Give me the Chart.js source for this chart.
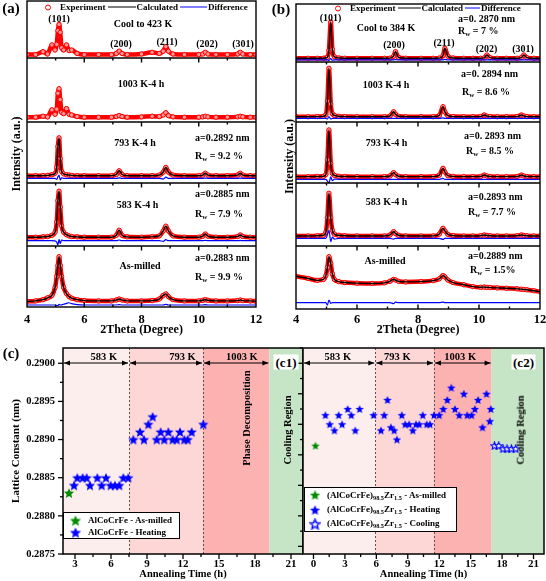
<!DOCTYPE html>
<html>
<head>
<meta charset="utf-8">
<title>XRD refinement and lattice constant</title>
<script src="https://cdn.jsdelivr.net/npm/chart.js@4.4.1/dist/chart.umd.min.js"></script>
<style>
  html, body { margin: 0; padding: 0; background: #fff; }
  #figure { position: relative; width: 546px; height: 581px; overflow: hidden;
            font-family: 'Times New Roman', 'Liberation Serif', serif; font-weight: bold; color: #000; }
  #figure > canvas { position: absolute; }
  .txt { position: absolute; white-space: nowrap; line-height: 1; }
  .txt sub, .box-legend sub { font-size: 0.7em; vertical-align: -0.25em; line-height: 0; }
  .legend { position: absolute; display: flex; align-items: center; font-size: 9px; white-space: nowrap; line-height: 1; transform: translateY(-50%); }
  .legend-line { display: inline-block; height: 1.6px; }
  .legend-circle { display: inline-block; width: 4px; height: 4px; border: 1px solid #ff0000; border-radius: 50%; }
  .box-legend { position: absolute; background: #fff; border: 1.5px solid #000; box-sizing: border-box; font-size: 9px; line-height: 1; }
  .box-legend .row { position: absolute; display: flex; align-items: center; white-space: nowrap; }
  .tag { position: absolute; background: #fff; font-size: 13px; padding: 1px 2px; line-height: 1; transform: translate(-50%, -50%); }
</style>
</head>
<body>
<div id="figure">
  <canvas id="chartA" width="273" height="340" style="left:0;top:0;width:273px;height:340px"></canvas>
  <canvas id="chartB" width="273" height="340" style="left:273px;top:0;width:273px;height:340px"></canvas>
  <canvas id="chartC1" width="303" height="251" style="left:0;top:330px;width:303px;height:251px"></canvas>
  <canvas id="chartC2" width="256" height="251" style="left:290px;top:330px;width:256px;height:251px"></canvas>
</div>
<script>
// ---------- (a) AlCoCrFe: 2theta grid and intensities (0-100 inside each sub-panel) ----------
const tthA = [4.00, 4.30, 4.56, 4.72, 4.87, 4.98, 5.04, 5.08, 5.12, 5.16,
              5.21, 5.28, 5.38, 5.47, 5.56, 5.75, 6.00, 6.50, 6.95, 7.12,
              7.22, 7.32, 7.50, 8.00, 8.37, 8.62, 8.76, 8.85, 8.94, 9.10,
              9.50, 10.00, 10.14, 10.23, 10.32, 10.60, 11.00, 11.36, 11.45, 11.54,
              11.80, 12.00];
const aCool423 = [6, 6, 11, 7, 23, 14, 24, 48, 59, 45,
                  18, 14, 23, 13, 14, 8, 6, 6, 6, 8,
                  12, 8, 6, 7, 10, 8, 12, 20, 12, 7,
                  6, 6, 7, 10, 7, 6, 6, 7, 10, 7,
                  6, 6];
const a1003K = [7.5, 7.5, 9, 8, 19, 12, 20, 45, 52, 35,
                15, 13, 21, 12, 11, 8.5, 7.5, 7.5, 7.5, 8.5,
                10, 8.5, 7.5, 8, 9, 8.5, 11, 14.5, 10, 8,
                7.5, 7.5, 8, 9, 8, 7.5, 7.5, 8, 9, 8,
                7.5, 7.5];
const a793K = [12, 12, 12, 12.5, 13.5, 16, 26, 60, 74, 40,
               19, 15, 13.5, 13, 12.5, 12, 12, 12, 12, 14,
               20, 14, 12, 12, 12, 13, 18, 25.5, 18, 13,
               12, 12, 13, 16, 13, 12, 12, 13, 16, 13,
               12, 12];
const a583K = [14, 14, 14.5, 15, 17, 22, 38, 72, 87, 62,
               32, 22, 18, 16, 15, 14.5, 14, 14, 14, 17,
               25, 17, 14.5, 14, 14.5, 16, 24, 31.5, 24, 16,
               14, 14, 15.5, 19, 15.5, 14, 14, 15, 17.5, 15,
               14, 14];
const aMilled = [9, 10, 12, 15, 19, 32, 50, 68, 82.5, 68,
                 50, 32, 22, 17, 14.5, 12, 10.5, 10, 10, 11.5,
                 13, 11.5, 10, 10, 10.5, 13, 19, 21.5, 17, 12,
                 10, 10, 11, 12, 11, 10, 10, 10.5, 11.5, 10.5,
                 10, 9.5];
const aDiff793K = [7.7, 7.7, 7.7, 7.7, 7.7, 7.7, 6, 10, 13, 5,
                   8.5, 7.7, 7.7, 7.7, 7.7, 7.7, 7.7, 7.7, 7.7, 7.7,
                   8.5, 7.7, 7.7, 7.7, 7.7, 7.7, 6.5, 9.5, 7.7, 7.7,
                   7.7, 7.7, 7.7, 8, 7.7, 7.7, 7.7, 7.7, 8, 7.7,
                   7.7, 7.7];
const aDiff583K = [8.4, 8.4, 8.4, 8.4, 8.4, 8.2, 6, 1.6, 10.6, 4,
                   9.5, 8.4, 8.4, 8.4, 8.4, 8.4, 8.4, 8.4, 8.4, 8.4,
                   9.5, 8.4, 8.4, 8.4, 8.4, 8.4, 7.5, 10, 8.4, 8.4,
                   8.4, 8.4, 8.4, 9, 8.4, 8.4, 8.4, 8.4, 8.8, 8.4,
                   8.4, 8.4];
const aDiffMilled = [3.3, 3.3, 3.3, 3.3, 3.3, 3.3, 2.5, 2.5, 4.5, 3.3,
                     3.6, 4.5, 6, 7, 5.5, 4, 3.3, 3.3, 3.3, 3.3,
                     4, 3.3, 3.3, 3.3, 3.3, 3.3, 3.3, 4.5, 3.3, 3.3,
                     3.3, 3.3, 3.3, 3.8, 3.3, 3.3, 3.3, 3.3, 3.3, 3.3,
                     3.3, 3.3];

// ---------- (b) (AlCoCrFe)98.5Zr1.5 ----------
const tthB = [4.00, 4.40, 4.70, 4.90, 4.98, 5.03, 5.08, 5.14, 5.19, 5.26,
              5.40, 5.60, 6.00, 6.50, 6.90, 7.08, 7.20, 7.26, 7.36, 7.60,
              8.10, 8.50, 8.70, 8.82, 8.88, 8.98, 9.15, 9.50, 9.80, 10.05,
              10.17, 10.26, 10.36, 10.60, 10.90, 11.25, 11.39, 11.47, 11.57, 11.80,
              12.00];
const bCool384 = [6.4, 6.4, 6.4, 6.5, 7, 8, 20, 69, 22, 9,
                  7, 6.5, 6.4, 6.4, 6.4, 6.6, 10, 17.8, 8, 6.5,
                  6.4, 6.4, 6.7, 11, 23.6, 10, 6.8, 6.4, 6.4, 6.4,
                  7, 12, 7.5, 6.4, 6.4, 6.4, 7.5, 12, 7.5, 6.4,
                  6.4];
const b1003K = [8.8, 8.8, 9, 9.5, 12, 35, 89.5, 30, 14, 11,
                9.5, 9, 8.8, 8.8, 8.8, 10, 17, 13, 9.5, 8.8,
                8.8, 8.8, 11, 25.5, 17, 10.5, 9, 8.8, 8.8, 9,
                11.7, 9.8, 9, 8.8, 8.8, 9, 11.7, 10, 9, 8.8,
                8.8];
const b793K = [10.4, 10.4, 10.6, 11, 14, 38, 87, 32, 16, 12.5,
               11, 10.6, 10.4, 10.4, 10.4, 11.5, 17, 14, 11, 10.4,
               10.4, 10.5, 13, 24, 18, 12, 10.8, 10.4, 10.4, 10.6,
               13, 11.5, 10.6, 10.4, 10.4, 10.6, 13, 11.5, 10.6, 10.4,
               10.4];
const b583K = [15.9, 15.9, 16.2, 17, 22, 45, 83.7, 45, 25, 19,
               17, 16.3, 15.9, 15.9, 15.9, 17.5, 22.7, 20, 17, 16,
               15.9, 16, 19, 28, 24, 18.5, 16.5, 15.9, 15.9, 16.2,
               17.5, 16.8, 16.2, 15.9, 15.9, 16.2, 17.5, 16.8, 16.2, 15.9,
               15.9];
const bMilled = [52, 48.5, 45.5, 47, 53, 66, 83, 72, 56, 47,
                 43.5, 42, 41, 40.5, 41.5, 44, 47, 46, 44, 43,
                 43.5, 45, 48, 53, 51, 46, 42, 38.5, 35.5, 34.5,
                 34.8, 34.4, 34, 33.5, 33, 32, 31.5, 31, 30.5, 29,
                 27.5];
const bDiffCool384 = [3.5, 3.5, 3.5, 3.5, 3.5, 3.5, 2.5, 6, 3, 3.5,
                      3.5, 3.5, 3.5, 3.5, 3.5, 3.5, 3.5, 4.2, 3.5, 3.5,
                      3.5, 3.5, 3.5, 3.5, 4.5, 3.5, 3.5, 3.5, 3.5, 3.5,
                      3.5, 3.5, 3.5, 3.5, 3.5, 3.5, 3.5, 3.5, 3.5, 3.5,
                      3.5];
const bDiff1003K = [6, 6, 6, 6, 6, 5, 9, 5, 6, 6,
                    6, 6, 6, 6, 6, 6, 6, 6, 6, 6,
                    6, 6, 6, 7, 6, 6, 6, 6, 6, 6,
                    6, 6, 6, 6, 6, 6, 6, 6, 6, 6,
                    6];
const bDiff793K = [6, 6, 6, 6, 6, 3, 0.5, 10, 4, 6.5,
                   6, 6, 6, 6, 6, 6, 6, 6, 6, 6,
                   6, 6, 6, 7.5, 6, 6, 6, 6, 6, 6,
                   6, 6, 6, 6, 6, 6, 6, 6, 6, 6,
                   6];
const bDiff583K = [12, 12, 12, 12, 12, 18, 25, 7, 14, 11,
                   12, 12, 12, 12, 12, 12, 11, 12, 12, 12,
                   12, 12, 12, 10.5, 12, 12, 12, 12, 12, 12,
                   12, 12, 12, 12, 12, 12, 12, 12, 12, 12,
                   12];
const bDiffMilled = [10, 10, 10, 10, 10, 6.3, 14, 9, 10, 10,
                     10, 10, 10, 10, 10, 10, 8.5, 11, 10, 10,
                     10, 10, 10, 11, 10, 10, 10, 10, 10, 10,
                     10, 10, 10, 10, 10, 10, 10, 10, 10, 10,
                     10];

// ---------- (c1) AlCoCrFe lattice constant ----------
const c1MilledTime = [2.5];
const c1MilledA = [0.2883];
const c1HeatTime = [2.92, 3.19, 3.64, 3.97, 4.25, 4.86, 5.22, 5.58, 5.97, 6.33, 6.69, 7.03, 7.44,
                    7.86, 8.42, 8.75, 9.11, 9.47, 9.81, 10.14, 10.44, 10.78, 11.14, 11.47, 11.75,
                    12.11, 12.39, 12.72, 13.69];
const c1HeatA = [0.2884, 0.2885, 0.2885, 0.2885, 0.2884, 0.2885, 0.2884, 0.2885, 0.2884, 0.2884, 0.2884, 0.2885, 0.2885,
                 0.2890, 0.2891, 0.2890, 0.2892, 0.2893, 0.2890, 0.2891, 0.2890, 0.2891, 0.2890, 0.2890, 0.2891,
                 0.2890, 0.2890, 0.2891, 0.2892];
const c1StageEdges = [2, 7.5, 13.67, 19.2, 22];

// ---------- (c2) (AlCoCrFe)98.5Zr1.5 lattice constant ----------
const c2MilledTime = [0.19];
const c2MilledA = [0.28893];
const c2HeatTime = [1.14, 1.55, 2.0, 2.4, 2.73, 3.26, 3.61, 3.99, 4.4,
                    5.73, 6.44, 6.75, 7.06, 7.39, 7.70, 7.96, 8.43, 8.75, 9.13, 9.48, 9.79, 10.1, 10.43, 10.81, 11.12, 11.5,
                    12.0, 12.39, 12.77, 13.15, 13.5, 13.91, 14.35, 14.67, 15.09, 15.4, 15.71, 16.13, 16.51, 16.83, 16.92];
const c2HeatA = [0.28903, 0.28900, 0.28898, 0.28903, 0.28900, 0.28905, 0.28903, 0.28898, 0.28905,
                 0.28903, 0.28898, 0.28903, 0.28908, 0.28899, 0.28898, 0.28895, 0.28903, 0.28900, 0.28900, 0.28898,
                 0.28900, 0.28900, 0.28903, 0.28900, 0.28900, 0.28903,
                 0.28903, 0.28905, 0.28908, 0.28912, 0.28905, 0.28903, 0.28910, 0.28903, 0.28903, 0.28905,
                 0.28908, 0.28899, 0.28910, 0.28901, 0.28905];
const c2CoolTime = [17.27, 17.68, 18.09, 18.47, 18.89, 19.3];
const c2CoolA = [0.28893, 0.28893, 0.28892, 0.28892, 0.28892, 0.28892];
const c2StageEdges = [-1, 5.9, 11.5, 17, 22];

const stageNames = ['583 K', '793 K', '1003 K'];

// ---------------------------------------------------------------
const serif = "'Times New Roman', 'Liberation Serif', serif";
Chart.defaults.font.family = serif;
Chart.defaults.font.weight = 'bold';
Chart.defaults.color = '#000';

const fig = document.getElementById('figure');

function put(html, x, y, size, mode) {
    const el = document.createElement('div');
    el.className = 'txt';
    el.innerHTML = html;
    el.style.left = x + 'px';
    el.style.top = y + 'px';
    el.style.fontSize = size + 'px';
    if (mode === 'left') el.style.transform = 'translate(0, -50%)';
    else if (mode === 'rot') el.style.transform = 'translate(-50%, -50%) rotate(-90deg)';
    else el.style.transform = 'translate(-50%, -50%)';
    fig.appendChild(el);
    return el;
}

// star marker drawn once on a small canvas, used as the pointStyle
function makeStar(size, fill, stroke) {
    const c = document.createElement('canvas');
    c.width = c.height = size;
    const g = c.getContext('2d');
    const r = size / 2 - 0.6, ri = r * 0.45, cx = size / 2, cy = size / 2 + r * 0.1;
    g.beginPath();
    for (let i = 0; i < 10; i++) {
        const rad = i % 2 ? ri : r;
        const ang = -Math.PI / 2 + i * Math.PI / 5;
        g.lineTo(cx + rad * Math.cos(ang), cy + rad * Math.sin(ang));
    }
    g.closePath();
    g.fillStyle = fill;
    g.fill();
    if (stroke) {
        g.strokeStyle = stroke;
        g.lineWidth = 1.1;
        g.stroke();
    }
    return c;
}

// ---------- XRD panels ----------
const xrdFrame = {
    id: 'xrdFrame',
    afterDatasetsDraw(chart, args, opts) {
        const {ctx, chartArea: {left, right, top, bottom}, scales: {x, y}} = chart;
        ctx.save();
        ctx.strokeStyle = '#000';
        ctx.lineWidth = 1.4;
        opts.bounds.slice(1, -1).forEach(b => {
            const py = y.getPixelForValue(b);
            ctx.beginPath();
            ctx.moveTo(left, py);
            ctx.lineTo(right, py);
            ctx.stroke();
            for (let v = 5; v <= 11; v++) {
                const px = x.getPixelForValue(v);
                ctx.beginPath();
                ctx.moveTo(px, py);
                ctx.lineTo(px, py + (v % 2 ? 2.5 : 4.5));
                ctx.stroke();
            }
        });
        for (let v = 5; v <= 11; v++) {
            const px = x.getPixelForValue(v);
            ctx.beginPath();
            ctx.moveTo(px, bottom);
            ctx.lineTo(px, bottom - (v % 2 ? 2.5 : 4.5));
            ctx.stroke();
        }
        ctx.strokeRect(left, top, right - left, bottom - top);
        ctx.restore();
    }
};

function toPoints(tth, vals, lo, hi) {
    return tth.map((t, i) => ({x: t, y: lo + vals[i] * (hi - lo) / 100}));
}

// rows go from the bottom sub-panel to the top one
function xrdDatasets(tth, bounds, rows) {
    const sets = [];
    rows.forEach((row, k) => {
        const lo = bounds[k], hi = bounds[k + 1];
        sets.push({
            label: 'Experiment', data: toPoints(tth, row.obs, lo, hi), showLine: true,
            borderColor: '#ff0000', borderWidth: 4.5, cubicInterpolationMode: 'monotone',
            pointRadius: 2.2, pointBorderWidth: 1, pointBorderColor: '#ff0000', pointBackgroundColor: '#ff9a9a',
            order: 3
        });
        if (row.fit) {
            sets.push({
                label: 'Calculated', data: toPoints(tth, row.fit, lo, hi), showLine: true,
                borderColor: '#000000', borderWidth: 1.4, cubicInterpolationMode: 'monotone', pointRadius: 0, order: 2
            });
        }
        if (row.diff) {
            sets.push({
                label: 'Difference', data: toPoints(tth, row.diff, lo, hi), showLine: true,
                borderColor: '#0000ff', borderWidth: 1.2, cubicInterpolationMode: 'monotone', pointRadius: 0, order: 1
            });
        }
    });
    return sets;
}

function makeXrdChart(id, tth, bounds, rows, box) {
    return new Chart(document.getElementById(id), {
        type: 'scatter',
        data: {datasets: xrdDatasets(tth, bounds, rows)},
        options: {
            responsive: false, animation: false, events: [], devicePixelRatio: 1,
            layout: {autoPadding: false, padding: {top: box.top, right: box.right, left: 0, bottom: 0}},
            plugins: {legend: {display: false}, tooltip: {enabled: false}, xrdFrame: {bounds}},
            scales: {
                x: {
                    type: 'linear', min: 4, max: 12,
                    grid: {display: false, drawTicks: false}, border: {display: false},
                    ticks: {stepSize: 2, maxRotation: 0, padding: box.tickPad, font: {size: 12.5, weight: 'bold'}},
                    title: {display: true, text: '2Theta (Degree)', font: {size: 12, weight: 'bold'}, padding: {top: 0, bottom: box.titlePad}},
                    afterFit: s => { s.height = box.xh; s.paddingLeft = 0; s.paddingRight = 0; }
                },
                y: {
                    type: 'linear', min: 0, max: bounds[bounds.length - 1],
                    grid: {display: false, drawTicks: false}, border: {display: false},
                    ticks: {display: false},
                    title: {display: true, text: 'Intensity (a.u.)', font: {size: 12, weight: 'bold'}, padding: {top: 10, bottom: 0}},
                    afterFit: s => { s.width = box.yw; }
                }
            }
        },
        plugins: [xrdFrame]
    });
}

// legend line in the top sub-panel, built from the chart datasets
const generateLegend = (chart, left, top, lineWidths) => {
    const legend = document.createElement('div');
    legend.className = 'legend';
    legend.style.left = left + 'px';
    legend.style.top = top + 'px';
    const seen = new Set();
    let lineIdx = 0;
    chart.data.datasets.forEach(ds => {
        if (seen.has(ds.label)) return;
        seen.add(ds.label);
        const mark = document.createElement('span');
        const label = document.createElement('span');
        label.textContent = ds.label;
        if (ds.label === 'Experiment') {
            mark.className = 'legend-circle';
            mark.style.margin = '0 9px 0 3px';
        } else {
            mark.className = 'legend-line';
            mark.style.width = lineWidths[lineIdx++] + 'px';
            mark.style.background = ds.borderColor;
            mark.style.margin = '0 1px 0 2px';
        }
        legend.append(mark, label);
    });
    fig.appendChild(legend);
};

const chartA = makeXrdChart('chartA', tthA, [0, 61, 124, 185, 249, 306], [
    {obs: aMilled, fit: aMilled, diff: aDiffMilled},
    {obs: a583K, fit: a583K, diff: aDiff583K},
    {obs: a793K, fit: a793K, diff: aDiff793K},
    {obs: a1003K},
    {obs: aCool423}
], {top: 1, right: 17, yw: 27, xh: 33, tickPad: 5, titlePad: 3});

const chartB = makeXrdChart('chartB', tthB, [0, 63, 126, 187, 247, 305], [
    {obs: bMilled, fit: bMilled, diff: bDiffMilled},
    {obs: b583K, fit: b583K, diff: bDiff583K},
    {obs: b793K, fit: b793K, diff: bDiff793K},
    {obs: b1003K, fit: b1003K, diff: bDiff1003K},
    {obs: bCool384, fit: bCool384, diff: bDiffCool384}
], {top: 4, right: 6, yw: 23, xh: 31, tickPad: 3, titlePad: 2.5});

generateLegend(chartA, 42, 7, [28, 27]);
generateLegend(chartB, 332, 8, [23, 15]);

// ---------- lattice constant panels ----------
function tickSteps(min, max, step) {
    const out = [];
    for (let k = Math.ceil(min / step - 1e-6); k * step <= max + step * 1e-6; k++) out.push(k);
    return out;
}

const annealFrame = {
    id: 'annealFrame',
    beforeDatasetsDraw(chart, args, opts) {
        const {ctx, chartArea: {top, bottom}, scales: {x}} = chart;
        const px = v => x.getPixelForValue(v);
        ctx.save();
        opts.edges.slice(0, -1).forEach((e, i) => {
            ctx.fillStyle = opts.colors[i];
            ctx.fillRect(px(e), top, px(opts.edges[i + 1]) - px(e), bottom - top);
        });
        ctx.strokeStyle = '#555';
        ctx.lineWidth = 1;
        ctx.setLineDash([2, 2]);
        opts.edges.slice(1, 3).forEach(v => {
            const xx = Math.round(px(v)) + 0.5;
            ctx.beginPath();
            ctx.moveTo(xx, top);
            ctx.lineTo(xx, bottom);
            ctx.stroke();
        });
        ctx.setLineDash([]);
        // heating stage arrows
        const ay = top + 15;
        ctx.strokeStyle = '#000';
        ctx.fillStyle = '#000';
        ctx.font = `bold 10.5px ${serif}`;
        ctx.textAlign = 'center';
        stageNames.forEach((name, i) => {
            const x0 = px(opts.edges[i]) + 1, x1 = px(opts.edges[i + 1]) - 1;
            ctx.beginPath();
            ctx.moveTo(x0, ay);
            ctx.lineTo(x1, ay);
            ctx.stroke();
            [[x0, 1], [x1, -1]].forEach(([ax, d]) => {
                ctx.beginPath();
                ctx.moveTo(ax, ay);
                ctx.lineTo(ax + 6 * d, ay - 2.5);
                ctx.lineTo(ax + 6 * d, ay + 2.5);
                ctx.closePath();
                ctx.fill();
            });
            ctx.fillText(name, px(opts.labelAt[i]), ay - 3);
        });
        ctx.restore();
    },
    afterDatasetsDraw(chart, args, opts) {
        const {ctx, chartArea: {left, right, top, bottom}, scales: {x, y}} = chart;
        ctx.save();
        ctx.strokeStyle = '#000';
        ctx.lineWidth = 1.3;
        tickSteps(x.min, x.max, opts.xStep / 2).forEach(k => {
            const p = x.getPixelForValue(k * opts.xStep / 2);
            ctx.beginPath();
            ctx.moveTo(p, bottom);
            ctx.lineTo(p, bottom + (k % 2 ? 3 : 5));
            ctx.stroke();
        });
        tickSteps(y.min, y.max, opts.yStep / 2).forEach(k => {
            const p = y.getPixelForValue(k * opts.yStep / 2);
            ctx.beginPath();
            ctx.moveTo(left, p);
            ctx.lineTo(left - (k % 2 ? 3 : 5), p);
            ctx.stroke();
        });
        ctx.lineWidth = 1.5;
        ctx.strokeRect(left, top, right - left, bottom - top);
        ctx.restore();
    }
};

const zip = (xs, ys) => xs.map((v, i) => ({x: v, y: ys[i]}));
const stageColors = ['#fdeeee', '#fdd6d6', '#fdb2b2', '#c6e4c6'];

function makeAnnealChart(id, datasets, xMin, yRange, yStep, frame, pad, showY) {
    return new Chart(document.getElementById(id), {
        type: 'scatter',
        data: {datasets},
        options: {
            responsive: false, animation: false, events: [], devicePixelRatio: 1,
            layout: {autoPadding: false, padding: pad},
            plugins: {legend: {display: false}, tooltip: {enabled: false}, annealFrame: Object.assign({colors: stageColors, xStep: 3, yStep}, frame)},
            scales: {
                x: {
                    type: 'linear', min: xMin, max: 22,
                    grid: {display: false, drawTicks: false}, border: {display: false},
                    ticks: {stepSize: 3, includeBounds: false, maxRotation: 0, padding: 4, font: {size: 11, weight: 'bold'}},
                    title: {display: true, text: 'Annealing Time (h)', font: {size: 10.5, weight: 'bold'}, padding: {top: 0, bottom: 0}},
                    afterFit: s => { s.height = 27; s.paddingLeft = 0; s.paddingRight = 0; }
                },
                y: {
                    type: 'linear', min: yRange[0], max: yRange[1], display: showY,
                    grid: {display: false, drawTicks: false}, border: {display: false},
                    ticks: {stepSize: yStep, includeBounds: false, padding: 8, font: {size: 10.5, weight: 'bold'},
                            callback: v => v.toFixed(4)},
                    title: {display: true, text: 'Lattice Constant (nm)', font: {size: 11, weight: 'bold'}, padding: {top: 10, bottom: 0}},
                    afterFit: s => {
                        if (showY) s.width = 63;
                        s.paddingTop = 0;
                        s.paddingBottom = 0;
                    }
                }
            }
        },
        plugins: [annealFrame]
    });
}

const zr = '(AlCoCrFe)<sub>98.5</sub>Zr<sub>1.5</sub>';

const chartC1 = makeAnnealChart('chartC1', [
    {label: 'AlCoCrFe - As-milled', data: zip(c1MilledTime, c1MilledA), pointStyle: makeStar(12, '#008c00'), pointRadius: 6},
    {label: 'AlCoCrFe - Heating', data: zip(c1HeatTime, c1HeatA), pointStyle: makeStar(12, '#0000ff'), pointRadius: 6}
], 2, [0.2875, 0.2902], 0.0005,
   {edges: c1StageEdges, labelAt: [5.4, 11.96, 16.9]},
   {top: 18, left: 0, right: 0, bottom: 0}, true);

const chartC2 = makeAnnealChart('chartC2', [
    {label: zr + ' - As-milled', data: zip(c2MilledTime, c2MilledA), pointStyle: makeStar(10, '#008c00'), pointRadius: 5},
    {label: zr + ' - Heating', data: zip(c2HeatTime, c2HeatA), pointStyle: makeStar(10, '#0000ff'), pointRadius: 5},
    {label: zr + ' - Cooling', data: zip(c2CoolTime, c2CoolA), pointStyle: makeStar(9, '#ffffff', '#0000ff'), pointRadius: 5}
], -1, [0.288575, 0.28925], 0.0001,
   {edges: c2StageEdges, labelAt: [2.33, 8.0, 14.0]},
   {top: 18, left: 13, right: 2, bottom: 0}, false);

// boxed star legends, built from the chart datasets
function generateBoxLegend(chart, box, spec) {
    const el = document.createElement('div');
    el.className = 'box-legend';
    Object.assign(el.style, {left: box[0] + 'px', top: box[1] + 'px', width: box[2] + 'px', height: box[3] + 'px'});
    chart.data.datasets.forEach((ds, i) => {
        const row = document.createElement('div');
        row.className = 'row';
        row.style.left = (spec.starX - spec.size / 2) + 'px';
        row.style.top = (spec.rows[i] - spec.size / 2) + 'px';
        row.style.height = spec.size + 'px';
        const mark = document.createElement('canvas');
        mark.width = mark.height = spec.size;
        mark.getContext('2d').drawImage(ds.pointStyle, 0, 0, spec.size, spec.size);
        const text = document.createElement('span');
        text.innerHTML = ds.label;
        text.style.marginLeft = (spec.textX - spec.starX - spec.size / 2) + 'px';
        row.append(mark, text);
        el.appendChild(row);
    });
    fig.appendChild(el);
}

generateBoxLegend(chartC1, [63, 512, 117, 27], {size: 13, starX: 11, textX: 24, rows: [7, 19]});
generateBoxLegend(chartC2, [304, 487, 153, 45], {size: 12, starX: 10, textX: 22, rows: [7, 21.5, 35.5]});

// ---------- annotations ----------
put('(a)', 11, 8, 15);
put('(101)', 59, 19, 10);
put('(200)', 121, 44, 10);
put('(211)', 167, 42, 10);
put('(202)', 207, 43.5, 10);
put('(301)', 243, 43.5, 10);
put('Cool to 423 K', 143, 23.5, 10);
put('1003 K-4 h', 141, 84, 10);
put('793 K-4 h', 135, 142.5, 10);
put('a=0.2892 nm', 195, 137.5, 10, 'left');
put('R<sub>w</sub> = 9.2 %', 195, 155.5, 10, 'left');
put('583 K-4 h', 137.5, 204.5, 10);
put('a=0.2885 nm', 195, 194, 10, 'left');
put('R<sub>w</sub> = 7.9 %', 195, 213.5, 10, 'left');
put('As-milled', 140, 266, 10);
put('a=0.2883 nm', 195, 257.5, 10, 'left');
put('R<sub>w</sub> = 9.9 %', 195, 276.5, 10, 'left');

put('(b)', 281, 9, 15);
put('(101)', 330.5, 17.5, 10);
put('(200)', 394, 44.5, 10);
put('(211)', 444, 43, 10);
put('(202)', 486.5, 48.5, 10);
put('(301)', 523, 48.5, 10);
put('Cool to 384 K', 386, 27.5, 10);
put('a=0. 2870 nm', 458, 19, 10, 'left');
put('R<sub>w</sub> = 7 %', 458, 31, 10, 'left');
put('1003 K-4 h', 386, 85, 10);
put('a=0. 2894 nm', 461, 74, 10, 'left');
put('R<sub>w</sub> = 8.6 %', 462, 92, 10, 'left');
put('793 K-4 h', 386.5, 142.5, 10);
put('a=0. 2893 nm', 464, 136, 10, 'left');
put('R<sub>w</sub> = 8.5 %', 466, 150.5, 10, 'left');
put('583 K-4 h', 386.5, 201.5, 10);
put('a=0.2893 nm', 468, 196.5, 10, 'left');
put('R<sub>w</sub> = 7.7 %', 468, 212, 10, 'left');
put('As-milled', 385, 260.5, 10);
put('a=0.2889 nm', 468, 256, 10, 'left');
put('R<sub>w</sub> = 1.5%', 470, 270, 10, 'left');

put('(c)', 11, 353, 15);
put('Phase Decomposition', 247, 418, 10.5, 'rot');
put('Cooling Region', 288, 430, 10.5, 'rot');
put('Cooling Region', 521, 430, 10.5, 'rot');
[['(c1)', 286, 362], ['(c2)', 523.5, 362]].forEach(([t, x, y]) => {
    const el = document.createElement('div');
    el.className = 'tag';
    el.textContent = t;
    el.style.left = x + 'px';
    el.style.top = y + 'px';
    fig.appendChild(el);
});
</script>
</body>
</html>
